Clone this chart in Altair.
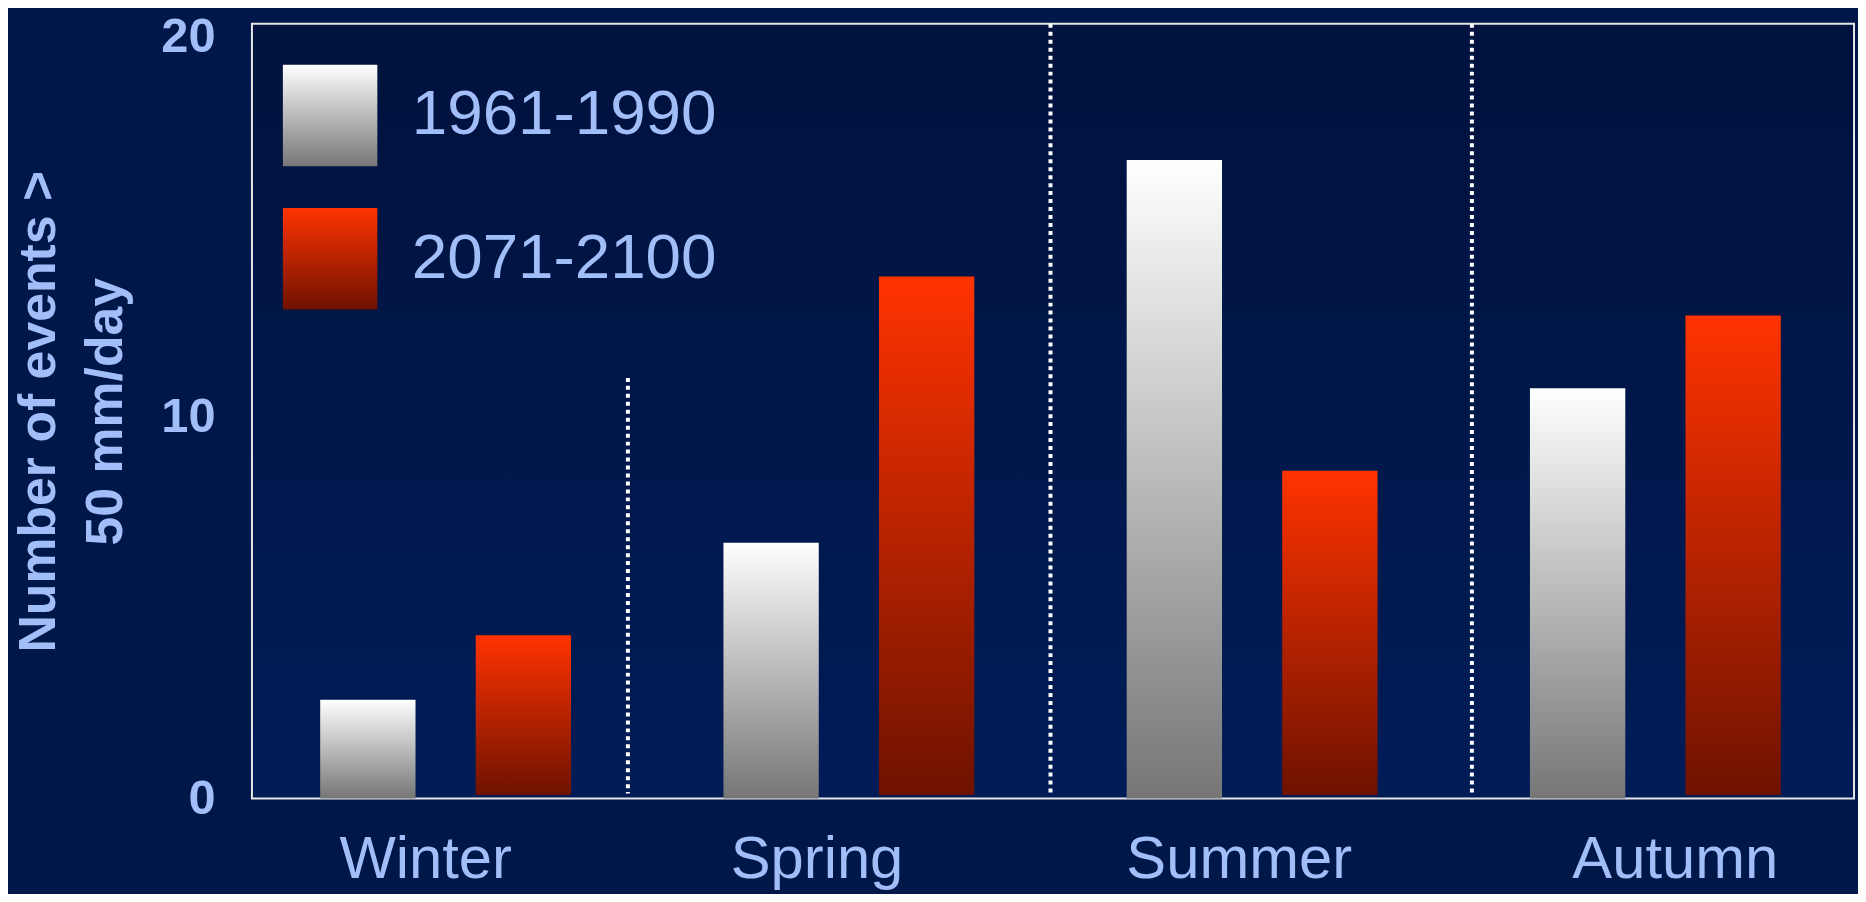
import altair as alt
import pandas as pd

# ---- data ----
seasons = ["Winter", "Spring", "Summer", "Autumn"]
periods = ["1961-1990", "2071-2100"]
events_1961_1990 = [2.58, 6.69, 16.7, 10.73]
events_2071_2100 = [4.27, 13.65, 8.57, 12.63]
bar_base = [0.0, 0.09]          # red bars start slightly above the axis line
sep_top = [11.0, 20.26, 20.26]  # tops of the three dotted separators
sep_bottom = 0.13
y_ticks = [0, 10, 20]
y_title = ["Number of events >", "50 mm/day"]

rows = []
for i, s in enumerate(seasons):
    rows.append({"season": s, "period": periods[0], "value": events_1961_1990[i], "base": bar_base[0]})
    rows.append({"season": s, "period": periods[1], "value": events_2071_2100[i], "base": bar_base[1]})
bars_df = pd.DataFrame(rows)

LABEL = "#A2BEF8"
FONT = "Liberation Sans"


def grad(top, bottom):
    return ("{gradient: 'linear', x1: 0, y1: 0, x2: 0, y2: 1, "
            "stops: [{offset: 0, color: '%s'}, {offset: 1, color: '%s'}]}" % (top, bottom))


# the season labels sit a little off the group centres in the reference
x_label_shift = {"Winter": -20, "Spring": -32, "Summer": -13, "Autumn": 20}
x_label_offset = {
    "condition": [{"test": "datum.value == '%s'" % k, "value": v} for k, v in x_label_shift.items()],
    "value": 0,
}
y_label_offset = {"condition": [{"test": "datum.value == 20", "value": 3}], "value": 0}

x_scale = alt.Scale(domain=seasons, paddingInner=0, paddingOuter=0, range=[-8, 1612])
y_scale = alt.Scale(domain=[0, 20.26], nice=False, zero=True)

bars = alt.Chart(bars_df).mark_bar().encode(
    x=alt.X("season:N", scale=x_scale, sort=seasons,
            axis=alt.Axis(title=None, labelFont=FONT, labelFontSize=60, labelColor=LABEL,
                          labelBaseline="alphabetic", labelPadding=79, ticks=False,
                          labelOffset=x_label_offset,
                          domain=False, labelAngle=0, labelLimit=1000, grid=False)),
    xOffset=alt.XOffset("period:N", sort=periods,
                        scale=alt.Scale(domain=periods, paddingInner=0.387, paddingOuter=0.49)),
    y=alt.Y("value:Q", scale=y_scale,
            axis=alt.Axis(values=y_ticks, title=y_title, labelFont=FONT, labelFontWeight="bold",
                          labelFontSize=49, labelColor=LABEL, labelPadding=37, ticks=False,
                          labelOffset=y_label_offset,
                          domain=False, grid=False, labelOverlap=False, labelFlush=False,
                          titleFont=FONT, titleFontWeight="bold", titleFontSize=52,
                          titleColor=LABEL, titlePadding=28, titleLineHeight=68)),
    y2="base:Q",
    fill=alt.Fill("period:N", sort=periods,
                  scale=alt.Scale(domain=periods,
                                  range=[{"expr": grad("#FFFFFF", "#767676")},
                                         {"expr": grad("#FF3300", "#6E1200")}]),
                  legend=alt.Legend(title=None, orient="none", legendX=27.5, legendY=41,
                                    symbolType="M-0.93,-1H0.93V1H-0.93Z", symbolSize=10404,
                                    symbolStrokeWidth=0, symbolOpacity=1,
                                    labelFont=FONT, labelFontSize=64, labelColor=LABEL,
                                    labelOffset=31, rowPadding=42, padding=0, labelLimit=1000)),
)


def separator(season, top, band_pos):
    df = pd.DataFrame({"season": [season], "top": [top], "bottom": [sep_bottom]})
    return alt.Chart(df).mark_rule(color="white", strokeWidth=4, strokeDash=[4, 4]).encode(
        x=alt.X("season:N", scale=x_scale, sort=seasons, bandPosition=band_pos),
        y=alt.Y("top:Q", scale=y_scale),
        y2="bottom:Q",
    )


seps = [
    separator("Winter", sep_top[0], 0.952),
    separator("Spring", sep_top[1], 1.0),
    separator("Autumn", sep_top[2], 0.045),
]

chart = (
    alt.layer(bars, *seps)
    .properties(width=1609, height=778,
                autosize=alt.AutoSizeParams(type="none"),
                padding={"left": 245, "top": 14, "right": 4, "bottom": 94},
                background="#00174A")
    .configure_view(stroke="#E6E6E6", strokeWidth=2,
                    fill={"expr": grad("#00123D", "#001C57")})
)

chart.save("out.html", embed_options={"renderer": "svg", "actions": False})
